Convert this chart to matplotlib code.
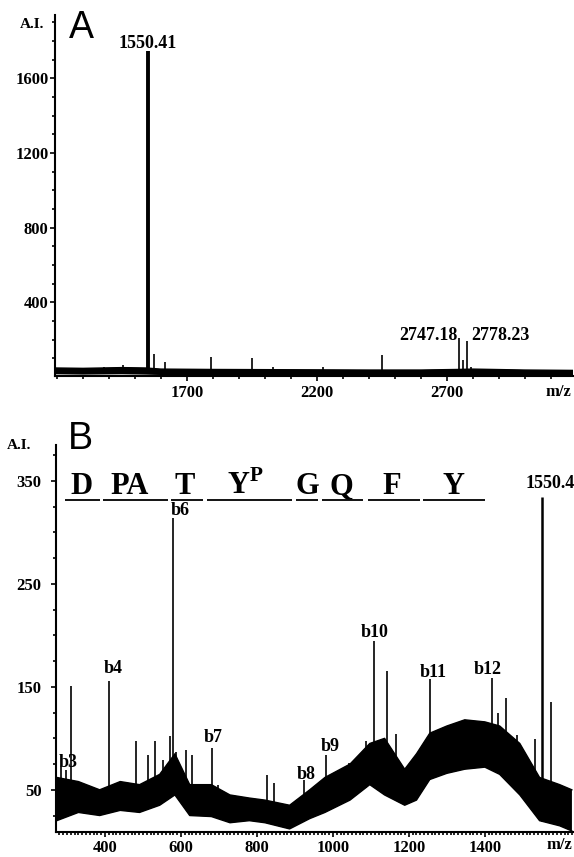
import numpy as np
import matplotlib
matplotlib.use("Agg")
import matplotlib.pyplot as plt
from matplotlib.ticker import MultipleLocator

plt.rcParams['font.family'] = ['Liberation Serif', 'DejaVu Serif']
plt.rcParams['font.weight'] = 'bold'
plt.rcParams['mathtext.fontset'] = 'custom'
plt.rcParams['mathtext.rm'] = 'Liberation Serif:bold'
plt.rcParams['mathtext.bf'] = 'Liberation Serif:bold'
plt.rcParams['hatch.linewidth'] = 1.4

# ---- panel A: MALDI spectrum ----
a_base_mz = [1192, 1300, 1450, 1540, 1600, 1800, 2000, 2200, 2400, 2600, 2740, 2800, 3000, 3186]
a_base_lo = [18, 16, 18, 16, 14, 14, 14, 13, 13, 13, 14, 14, 13, 13]
a_base_hi = [48, 46, 50, 48, 42, 40, 39, 38, 37, 37, 40, 42, 37, 35]
a_peak_mz = [1381, 1454, 1550.41, 1573, 1615, 1792, 1950, 2031, 2224, 2451, 2747.18, 2762, 2778.23, 2792]
a_peak_h = [55, 62, 1745, 122, 82, 105, 100, 55, 55, 116, 207, 90, 192, 55]
a_labels = ['1550.41', '2747.18', '2778.23']
a_label_x = [1550, 2742, 2796]
a_label_y = [1762, 197, 197]
a_label_ha = ['center', 'right', 'left']

# ---- panel B: MS/MS spectrum ----
b_base_mz = [273, 330, 386, 440, 491, 544, 584, 623, 680, 729, 780, 821, 886, 939, 979, 1045,
             1097, 1136, 1189, 1220, 1255, 1300, 1347, 1400, 1439, 1492, 1544, 1597, 1629]
b_base_lo = [20, 28, 25, 30, 28, 35, 45, 25, 24, 18, 20, 18, 12, 22, 28, 40,
             55, 45, 35, 40, 60, 66, 70, 72, 65, 45, 20, 15, 10]
b_base_hi = [62, 58, 50, 58, 55, 65, 85, 55, 55, 45, 42, 40, 35, 50, 62, 75,
             95, 100, 70, 85, 105, 112, 118, 116, 112, 95, 62, 55, 50]
b_peak_mz = [284, 297, 310, 410, 481, 513, 531, 552, 571, 579, 586, 613, 629, 681, 697, 826, 844,
             923, 981, 1042, 1086, 1107, 1142, 1165, 1255, 1418, 1434, 1455, 1484, 1531, 1550, 1573]
b_peak_h = [73, 69, 151, 156, 97, 84, 97, 79, 102, 314, 87, 89, 84, 91, 55, 64, 57,
            60, 84, 76, 97, 195, 165, 104, 158, 159, 125, 139, 103, 99, 334, 135]
b_labels = ['b3', 'b4', 'b6', 'b7', 'b8', 'b9', 'b10', 'b11', 'b12', '1550.4']
b_label_x = [302, 421, 597, 684, 929, 992, 1110, 1263, 1407, 1571]
b_label_y = [77, 168, 321, 101, 65, 92, 203, 164, 167, 348]

seq_letters = ['D', 'PA', 'T', r'Y$^{\mathbf{P}}$', 'G', 'Q', 'F', 'Y']
seq_x = [339, 465, 610, 770, 934, 1023, 1155, 1318]
seq_start = [294, 394, 573, 668, 902, 971, 1092, 1236]
seq_end = [386, 565, 657, 892, 960, 1079, 1229, 1400]

W, H = 574, 857
fig = plt.figure(figsize=(W / 100, H / 100), dpi=100)


def style_axes(ax):
    for s in ['top', 'right']:
        ax.spines[s].set_visible(False)
    for s in ['left', 'bottom']:
        ax.spines[s].set_linewidth(1.5)
    ax.tick_params(which='both', direction='out', width=1.2, labelsize=12)
    ax.tick_params(which='major', length=3.5)
    ax.tick_params(which='minor', length=2.5)
    for lab in ax.get_xticklabels() + ax.get_yticklabels():
        lab.set_fontweight('bold')


def draw_spectrum(ax, base_mz, lo, hi, pk_mz, pk_h, lw_big):
    # noisy baseline drawn as a hatched band between its lower and upper envelope
    ax.fill_between(base_mz, lo, hi, facecolor='0.45', edgecolor='black',
                    hatch='||||||||||', lw=0)
    ax.plot(base_mz, lo, color='black', lw=1.0)
    ax.plot(base_mz, hi, color='black', lw=1.0)
    foot = np.interp(pk_mz, base_mz, lo)
    big = max(pk_h)
    lws = [lw_big if h == big else 1.2 for h in pk_h]
    ax.vlines(pk_mz, foot, pk_h, colors='black', linewidths=lws)


# panel A
axA = fig.add_axes([55 / W, 1 - 376 / H, 518 / W, 361 / H])
draw_spectrum(axA, a_base_mz, a_base_lo, a_base_hi, a_peak_mz, a_peak_h, 2.8)
axA.set_xlim(1192, 3186)
axA.set_ylim(5, 1940)
axA.set_xticks([1700, 2200, 2700])
axA.xaxis.set_minor_locator(MultipleLocator(100))
axA.set_yticks([400, 800, 1200, 1600])
axA.yaxis.set_minor_locator(MultipleLocator(100))
axA.tick_params(axis='y', pad=1)
axA.tick_params(axis='x', pad=3)
style_axes(axA)
for t, x, y, ha in zip(a_labels, a_label_x, a_label_y, a_label_ha):
    axA.text(x, y, t, ha=ha, va='baseline', fontsize=13, fontweight='bold')
axA.text(3128, -0.045, 'm/z', transform=axA.get_xaxis_transform(), ha='center', va='center',
         fontsize=12, fontweight='bold')

# panel B
axB = fig.add_axes([56 / W, 1 - 832 / H, 517 / W, 387 / H])
draw_spectrum(axB, b_base_mz, b_base_lo, b_base_hi, b_peak_mz, b_peak_h, 1.8)
axB.set_xlim(271, 1632)
axB.set_ylim(9, 385)
axB.set_xticks([400, 600, 800, 1000, 1200, 1400])
axB.xaxis.set_minor_locator(MultipleLocator(10))
axB.set_yticks([50, 150, 250, 350])
axB.yaxis.set_minor_locator(MultipleLocator(25))
axB.tick_params(axis='y', pad=7)
axB.tick_params(axis='x', pad=2)
style_axes(axB)
for t, x, y in zip(b_labels, b_label_x, b_label_y):
    axB.text(x, y, t, ha='center', va='center', fontsize=13, fontweight='bold')
for t, x in zip(seq_letters, seq_x):
    axB.text(x, 337, t, ha='center', va='baseline', fontsize=22, fontweight='bold')
axB.hlines([332] * len(seq_start), seq_start, seq_end, colors='black', linewidth=1.3)
axB.text(1597, -0.033, 'm/z', transform=axB.get_xaxis_transform(), ha='center', va='center',
         fontsize=12, fontweight='bold')

# axis titles and panel letters
fig.text(32 / W, 1 - 24 / H, 'A.I.', ha='center', va='center', fontsize=11, fontweight='bold')
fig.text(19 / W, 1 - 446 / H, 'A.I.', ha='center', va='center', fontsize=11, fontweight='bold')
fig.text(81 / W, 1 - 28 / H, 'A', ha='center', va='center', fontsize=27,
         family='Liberation Sans', fontweight='normal')
fig.text(80 / W, 1 - 439 / H, 'B', ha='center', va='center', fontsize=27,
         family='Liberation Sans', fontweight='normal')

fig.savefig('out.png', dpi=100)
